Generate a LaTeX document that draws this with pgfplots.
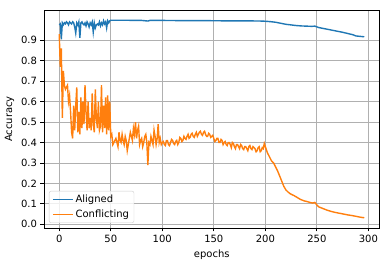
\documentclass[border=0pt]{standalone}
\usepackage{fontspec}
\setmainfont{DejaVu Sans}
\usepackage{pgfplots}
\pgfplotsset{compat=1.18}
\definecolor{tabblue}{HTML}{1F77B4}
\definecolor{taborange}{HTML}{FF7F0E}
\definecolor{gridgray}{HTML}{B0B0B0}
\begin{document}
\begin{tikzpicture}
\begin{axis}[
  name=ax,
  scale only axis,
  width=335.5pt, height=218pt,
  xmin=-14.8, xmax=310.8, ymin=-0.018, ymax=1.048,
  xtick={0,50,100,150,200,250,300},
  ytick={0,0.1,0.2,0.3,0.4,0.5,0.6,0.7,0.8,0.9},
  yticklabel style={/pgf/number format/.cd, fixed, fixed zerofill, precision=1},
  /pgf/number format/assume math mode=true,
  xtick pos=bottom, ytick pos=left,
  tick align=outside,
  major tick length=3.5pt,
  tick style={black, line width=0.8pt},
  axis line style={line width=0.8pt},
  grid=major,
  grid style={color=gridgray, line width=0.8pt},
  xlabel={epochs}, ylabel={Accuracy},
  tick label style={font=\fontsize{10}{12}\selectfont},
  label style={font=\fontsize{10}{12}\selectfont},
  legend cell align=left,
  legend image code/.code={\draw[#1] (0pt,0pt) -- (20pt,0pt);},
  legend style={at={(0.0149,0.0229)}, anchor=south west, draw=black!20, rounded corners=2pt,
    fill=white, fill opacity=0.8, text opacity=1, font=\fontsize{10}{12}\selectfont,
    inner xsep=3pt, inner ysep=2pt, row sep=1.5pt},
]
\addplot[color=tabblue, line width=1.4pt] coordinates {
(0,0.975)(1,0.98)(2,0.905)(3,0.985)(4,0.975)(5,0.985)(6,0.98)(7,0.99)(8,0.985)(9,0.975)
(10,0.99)(11,0.985)(12,0.98)(13,0.99)(14,0.985)(15,0.965)(16,0.935)(17,0.985)(18,0.975)(19,0.99)
(20,0.912)(21,0.985)(22,0.99)(23,0.98)(24,0.975)(25,0.985)(26,0.97)(27,0.99)(28,0.98)(29,0.965)
(30,0.985)(31,0.975)(32,0.99)(33,0.94)(34,0.985)(35,0.96)(36,0.975)(37,0.98)(38,0.975)(39,0.99)
(40,0.97)(41,0.985)(42,0.975)(43,0.995)(44,0.98)(45,0.99)(46,0.96)(47,0.995)(48,0.985)(49,0.995)
(50,0.998)(60,0.998)(80,0.997)(86,0.994)(88,0.997)(100,0.997)(120,0.996)(140,0.996)(160,0.995)
(180,0.995)(195,0.994)(200,0.993)(205,0.991)(210,0.988)(215,0.983)(220,0.978)(225,0.975)
(230,0.972)(235,0.970)(240,0.969)(245,0.968)(248,0.969)(252,0.962)(256,0.958)(260,0.954)
(265,0.949)(270,0.944)(275,0.939)(280,0.933)(285,0.927)(288,0.921)(292,0.919)(296,0.917)
};
\addlegendentry{Aligned}
\addplot[color=taborange, line width=1.4pt] coordinates {
(0,0.93)(1,0.77)(2,0.86)(3,0.52)(4,0.75)(5,0.68)(6,0.66)(7,0.67)(8,0.68)(9,0.60)
(10,0.63)(11,0.55)(12,0.45)(13,0.42)(14,0.58)(15,0.46)(16,0.58)(17,0.67)(18,0.45)(19,0.55)
(20,0.44)(21,0.62)(22,0.47)(23,0.60)(24,0.49)(25,0.68)(26,0.55)(27,0.46)(28,0.60)(29,0.47)
(30,0.52)(31,0.46)(32,0.64)(33,0.49)(34,0.45)(35,0.66)(36,0.52)(37,0.47)(38,0.60)(39,0.46)
(40,0.48)(41,0.68)(42,0.45)(43,0.58)(44,0.47)(45,0.62)(46,0.44)(47,0.63)(48,0.46)(49,0.60)
(50,0.43)(51,0.44)(52,0.39)(53,0.40)(54,0.41)(55,0.42)(56,0.40)(57,0.38)(58,0.45)(59,0.41)
(60,0.40)(61,0.44)(62,0.41)(63,0.39)(64,0.43)(65,0.41)(66,0.36)(67,0.39)(68,0.42)(69,0.45)
(70,0.43)(71,0.41)(72,0.47)(73,0.44)(74,0.50)(75,0.42)(76,0.46)(77,0.48)(78,0.39)(79,0.41)
(80,0.42)(81,0.38)(82,0.40)(83,0.43)(84,0.44)(85,0.40)(86,0.29)(87,0.40)(88,0.39)(89,0.43)
(90,0.41)(91,0.39)(92,0.46)(93,0.43)(94,0.39)(95,0.42)(96,0.49)(97,0.40)(98,0.42)(99,0.39)
(100,0.40)(101,0.405)(102,0.39)(103,0.385)(104,0.41)(105,0.41)(106,0.39)(107,0.385)(108,0.40)
(109,0.415)(110,0.41)(111,0.395)(112,0.39)(113,0.405)(114,0.41)(115,0.39)(116,0.40)(117,0.425)
(118,0.42)(119,0.405)(120,0.41)(121,0.43)(122,0.42)(123,0.415)(124,0.43)(125,0.44)(126,0.42)
(127,0.425)(128,0.44)(129,0.445)(130,0.43)(131,0.425)(132,0.44)(133,0.45)(134,0.43)(135,0.44)
(136,0.45)(137,0.455)(138,0.44)(139,0.435)(140,0.45)(141,0.455)(142,0.44)(143,0.43)(144,0.43)
(145,0.445)(146,0.44)(147,0.425)(148,0.43)(149,0.435)(150,0.42)(151,0.405)(152,0.41)(153,0.42)
(154,0.42)(155,0.40)(156,0.40)(157,0.415)(158,0.41)(159,0.39)(160,0.40)(161,0.405)(162,0.39)
(163,0.385)(164,0.40)(165,0.40)(166,0.39)(167,0.375)(168,0.40)(169,0.395)(170,0.38)(171,0.37)
(172,0.39)(173,0.39)(174,0.38)(175,0.37)(176,0.39)(177,0.385)(178,0.37)(179,0.365)(180,0.38)
(181,0.38)(182,0.37)(183,0.36)(184,0.38)(185,0.385)(186,0.37)(187,0.365)(188,0.38)(189,0.375)
(190,0.37)(191,0.355)(192,0.36)(193,0.375)(194,0.38)(195,0.355)(196,0.36)(197,0.375)(198,0.37)
(199,0.395)(200,0.38)(202,0.35)(204,0.33)(206,0.31)(208,0.30)(210,0.28)(212,0.26)
(214,0.235)(216,0.21)(218,0.185)(220,0.168)(222,0.158)(224,0.15)(226,0.145)(228,0.14)(230,0.134)
(232,0.128)(234,0.122)(236,0.118)(238,0.114)(240,0.112)(242,0.109)(244,0.106)(246,0.104)
(248,0.107)(250,0.095)(252,0.085)(254,0.081)(256,0.077)(258,0.073)(260,0.069)(264,0.063)
(268,0.058)(272,0.054)(276,0.050)(280,0.046)(284,0.043)(288,0.039)(292,0.035)(296,0.032)
};
\addlegendentry{Conflicting}
\end{axis}
\pgfresetboundingbox
\path ([shift={(-44pt,-38pt)}]ax.south west) rectangle ([shift={(9.5pt,10pt)}]ax.north east);
\end{tikzpicture}
\end{document}
